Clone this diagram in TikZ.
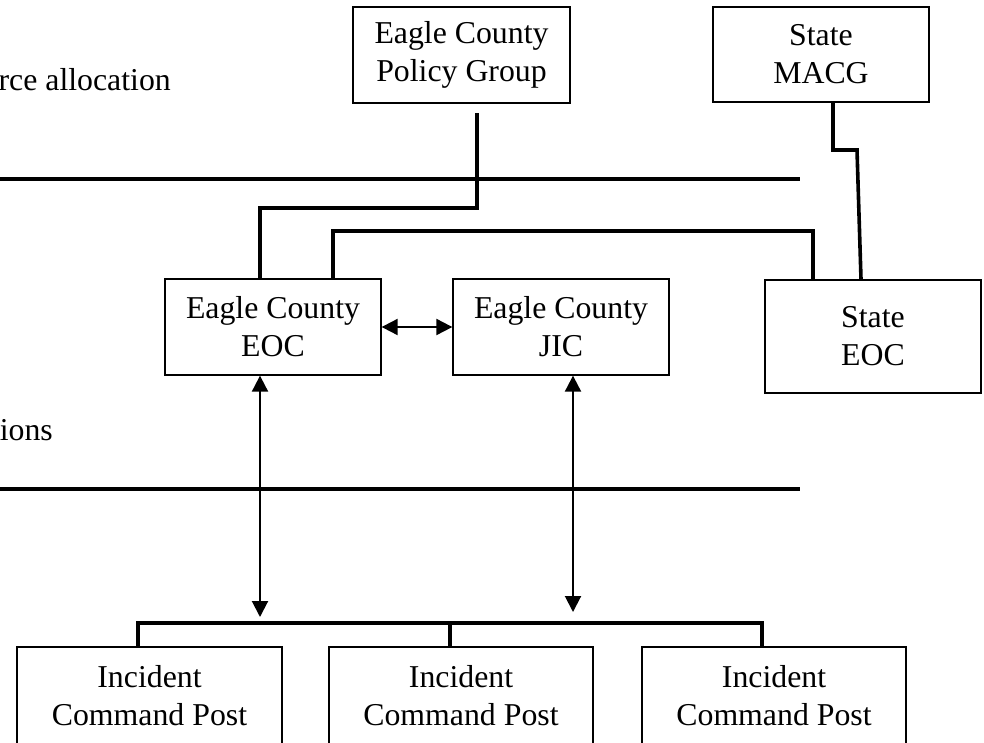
\documentclass[tikz,border=0pt]{standalone}
\usepackage{fontspec}
\setmainfont{Liberation Serif}
\usetikzlibrary{arrows.meta}
\begin{document}
\begin{tikzpicture}[x=1pt,y=-1pt,
  box/.style={draw,line width=1.3pt,rectangle,inner sep=0pt,align=center,
    font=\fontsize{31.8}{38}\selectfont},
  lbl/.style={inner sep=0pt,font=\fontsize{31.8}{38}\selectfont},
  thickline/.style={line width=3.6pt},
  dblarrow/.style={line width=2pt,{Triangle[length=16pt,width=16pt]}-{Triangle[length=16pt,width=16pt]}}
]
\useasboundingbox (0,0) rectangle (984,742);
% boxes
\node[box,minimum width=217pt,minimum height=96pt] (pg) at (461.5,55) {Eagle County\\Policy Group};
\node[box,minimum width=216pt,minimum height=95pt] (macg) at (821,54.5) {State\\MACG};
\node[box,minimum width=216pt,minimum height=96pt] (eoc) at (273,327) {Eagle County\\EOC};
\node[box,minimum width=216pt,minimum height=96pt] (jic) at (561,327) {Eagle County\\JIC};
\node[box,minimum width=216pt,minimum height=113pt] (seoc) at (873,336.5) {State\\EOC};
\node[box,minimum width=265pt,minimum height=98pt] (icp1) at (149.5,696) {Incident\\Command Post};
\node[box,minimum width=264pt,minimum height=98pt] (icp2) at (461,696) {Incident\\Command Post};
\node[box,minimum width=264pt,minimum height=98pt] (icp3) at (774,696) {Incident\\Command Post};
% left labels
\node[lbl,anchor=base east] (lab1) at (171,90) {rce allocation};
\node[lbl,anchor=base east] (lab2) at (53,440) {ions};
% separator lines
\coordinate (s1a) at (0,179); \coordinate (s1b) at (800,179);
\coordinate (s2a) at (0,489); \coordinate (s2b) at (800,489);
\draw[thickline] (s1a) -- (s1b);
\draw[thickline] (s2a) -- (s2b);
% policy group to EOC
\coordinate (pgtop) at (477,113);
\coordinate (pgbend) at (260,208);
\draw[thickline] (pgtop) |- (pgbend) -- (pgbend |- eoc.north);
% EOC to State EOC
\coordinate (e1) at (333,231);
\coordinate (e2) at (813,231);
\draw[thickline] (e1 |- eoc.north) -- (e1) -- (e2) -- (e2 |- seoc.north);
% MACG to State EOC
\coordinate (m1) at (833,150);
\coordinate (m2) at (857,150);
\coordinate (m3) at (861,250);
\draw[thickline] (m1 |- macg.south) -- (m1) -- (m2) -- (m3 |- seoc.north);
% arrows
\draw[dblarrow] (eoc.east) -- (jic.west);
\coordinate (a1) at (260,617);
\coordinate (a2) at (573,612);
\draw[dblarrow] (a1 |- eoc.south) -- (a1);
\draw[dblarrow] (a2 |- jic.south) -- (a2);
% bus to incident command posts
\coordinate (b1) at (138,623);
\coordinate (b2) at (450,623);
\coordinate (b3) at (762,623);
\draw[thickline] (b1 |- icp1.north) -- (b1) -- (b3) -- (b3 |- icp3.north);
\draw[thickline] (b2) -- (b2 |- icp2.north);
\end{tikzpicture}
\end{document}
